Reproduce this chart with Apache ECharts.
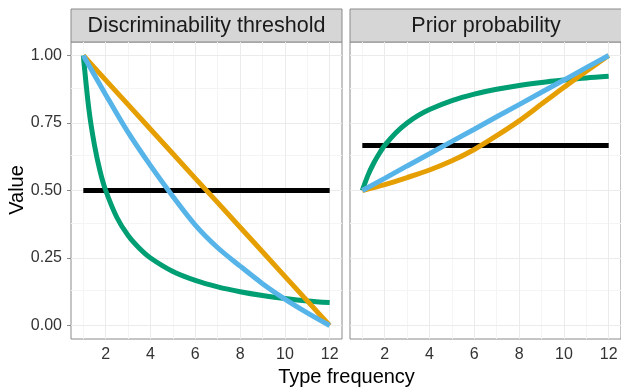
<!DOCTYPE html>
<html>
<head>
<meta charset="utf-8">
<script src="https://cdn.jsdelivr.net/npm/echarts@6/dist/echarts.min.js"></script>
<style>
    html, body { margin: 0; padding: 0; background: #fff; }
    #chart { width: 621px; height: 387px; }
</style>
</head>
<body>
<div id="chart"></div>
<script>
// x positions
const xInt = [1, 2, 3, 4, 5, 6, 7, 8, 9, 10, 11, 12];
const xFine = [1, 1.25, 1.5, 1.75, 2, 2.5, 3, 3.5, 4, 5, 6, 7, 8, 9, 10, 11, 12];
const xFlat = [1, 12];

// Discriminability threshold panel
const thresholdOrange = [1.0, 0.909, 0.818, 0.727, 0.636, 0.545, 0.455, 0.364, 0.273, 0.182, 0.091, 0.0];
const thresholdBlue = [1.0, 0.855, 0.715, 0.592, 0.478, 0.372, 0.288, 0.22, 0.155, 0.098, 0.047, 0.0];
const thresholdGreen = [1.0, 0.8, 0.667, 0.571, 0.5, 0.4, 0.333, 0.286, 0.25, 0.2, 0.167, 0.143, 0.125, 0.111, 0.1, 0.091, 0.085];
const thresholdBlack = [0.5, 0.5];

// Prior probability panel
const priorOrange = [0.5, 0.522, 0.548, 0.576, 0.61, 0.652, 0.703, 0.758, 0.82, 0.882, 0.942, 1.0];
const priorBlue = [0.5, 0.545, 0.591, 0.636, 0.682, 0.727, 0.773, 0.818, 0.864, 0.909, 0.955, 1.0];
const priorGreen = [0.5, 0.556, 0.6, 0.636, 0.667, 0.714, 0.75, 0.778, 0.8, 0.833, 0.857, 0.875, 0.889, 0.9, 0.909, 0.917, 0.923];
const priorBlack = [0.667, 0.667];

// axis ticks and gridlines
const xTicks = [2, 4, 6, 8, 10, 12];
const xMinor = [1, 3, 5, 7, 9, 11];
const yTicks = [0, 0.25, 0.5, 0.75, 1];
const yMinor = [0.125, 0.375, 0.625, 0.875];

const panelTitles = ['Discriminability threshold', 'Prior probability'];

const ORANGE = '#E69F00';
const BLUE = '#56B4E9';
const GREEN = '#009E73';
const BLACK = '#000000';
const FONT = 'Liberation Sans, Arial, sans-serif';

const pairs = (xs, ys) => xs.map((x, i) => [x, ys[i]]);

const panels = [
    { left: 71, width: 271 },
    { left: 350, width: 272 },
];
const TOP = 42;
const HEIGHT = 297;

const chart = echarts.init(document.getElementById('chart'), null, { renderer: 'canvas' });

const grids = panels.map((p) => ({
    left: p.left,
    top: TOP,
    width: p.width,
    height: HEIGHT,
    show: true,
    backgroundColor: '#fff',
    borderColor: '#8a8a8a',
    borderWidth: 1,
    containLabel: false,
}));

const xAxes = panels.map((p, i) => ({
    type: 'value',
    gridIndex: i,
    min: 0.45,
    max: 12.55,
    splitLine: { show: false },
    axisLine: { show: false },
    axisTick: {
        show: true,
        customValues: xTicks,
        length: 4,
        lineStyle: { color: '#8a8a8a' },
    },
    axisLabel: {
        customValues: xTicks,
        fontSize: 16,
        fontFamily: FONT,
        color: '#333',
        margin: 8,
    },
}));

const yAxes = panels.map((p, i) => ({
    type: 'value',
    gridIndex: i,
    min: -0.05,
    max: 1.05,
    splitLine: { show: false },
    axisLine: { show: false },
    axisTick: {
        show: i === 0,
        customValues: yTicks,
        length: 4,
        lineStyle: { color: '#8a8a8a' },
    },
    axisLabel: {
        show: i === 0,
        customValues: yTicks,
        fontSize: 16,
        fontFamily: FONT,
        color: '#333',
        margin: 9,
        formatter: (v) => v.toFixed(2),
    },
}));

// ggplot style background grid, kept under the curves
function gridLines(i) {
    const major = { color: '#ebebeb', width: 1, type: 'solid' };
    const minor = { color: '#f4f4f4', width: 1, type: 'solid' };
    const data = [
        ...xMinor.map((v) => ({ xAxis: v, lineStyle: minor })),
        ...yMinor.map((v) => ({ yAxis: v, lineStyle: minor })),
        ...xTicks.map((v) => ({ xAxis: v, lineStyle: major })),
        ...yTicks.map((v) => ({ yAxis: v, lineStyle: major })),
    ];
    return {
        type: 'line',
        xAxisIndex: i,
        yAxisIndex: i,
        data: [],
        z: 1,
        silent: true,
        markLine: {
            z: 1,
            silent: true,
            symbol: ['none', 'none'],
            label: { show: false },
            emphasis: { disabled: true },
            animation: false,
            data,
        },
    };
}

function curve(i, xs, ys, color, smooth) {
    return {
        type: 'line',
        xAxisIndex: i,
        yAxisIndex: i,
        data: pairs(xs, ys),
        showSymbol: false,
        smooth: smooth ? 0.3 : false,
        z: 10,
        lineStyle: { color, width: 5 },
        itemStyle: { color },
    };
}

const series = [
    gridLines(0),
    gridLines(1),
    curve(0, xFlat, thresholdBlack, BLACK, false),
    curve(0, xFine, thresholdGreen, GREEN, true),
    curve(0, xInt, thresholdOrange, ORANGE, false),
    curve(0, xInt, thresholdBlue, BLUE, true),
    curve(1, xFlat, priorBlack, BLACK, false),
    curve(1, xFine, priorGreen, GREEN, true),
    curve(1, xInt, priorOrange, ORANGE, true),
    curve(1, xInt, priorBlue, BLUE, false),
];

const strips = panels.map((p, i) => ({
    type: 'group',
    children: [
        {
            type: 'rect',
            shape: { x: p.left, y: 9, width: p.width, height: TOP - 9 },
            style: { fill: '#d6d6d6', stroke: '#8a8a8a', lineWidth: 1 },
        },
        {
            type: 'text',
            x: p.left + p.width / 2,
            y: 26,
            style: {
                text: panelTitles[i],
                fontSize: 21.5,
                fontFamily: FONT,
                fill: '#1a1a1a',
                align: 'center',
                verticalAlign: 'middle',
            },
        },
    ],
}));

const option = {
    animation: false,
    backgroundColor: '#fff',
    grid: grids,
    xAxis: xAxes,
    yAxis: yAxes,
    series,
    graphic: [
        ...strips,
        {
            type: 'text',
            x: 346.5,
            y: 377,
            style: {
                text: 'Type frequency',
                fontSize: 20,
                fontFamily: FONT,
                fill: '#000',
                align: 'center',
                verticalAlign: 'middle',
            },
        },
        {
            type: 'text',
            x: 17,
            y: 190,
            rotation: Math.PI / 2,
            style: {
                text: 'Value',
                fontSize: 20,
                fontFamily: FONT,
                fill: '#000',
                align: 'center',
                verticalAlign: 'middle',
            },
        },
    ],
};

chart.setOption(option);
</script>
</body>
</html>
